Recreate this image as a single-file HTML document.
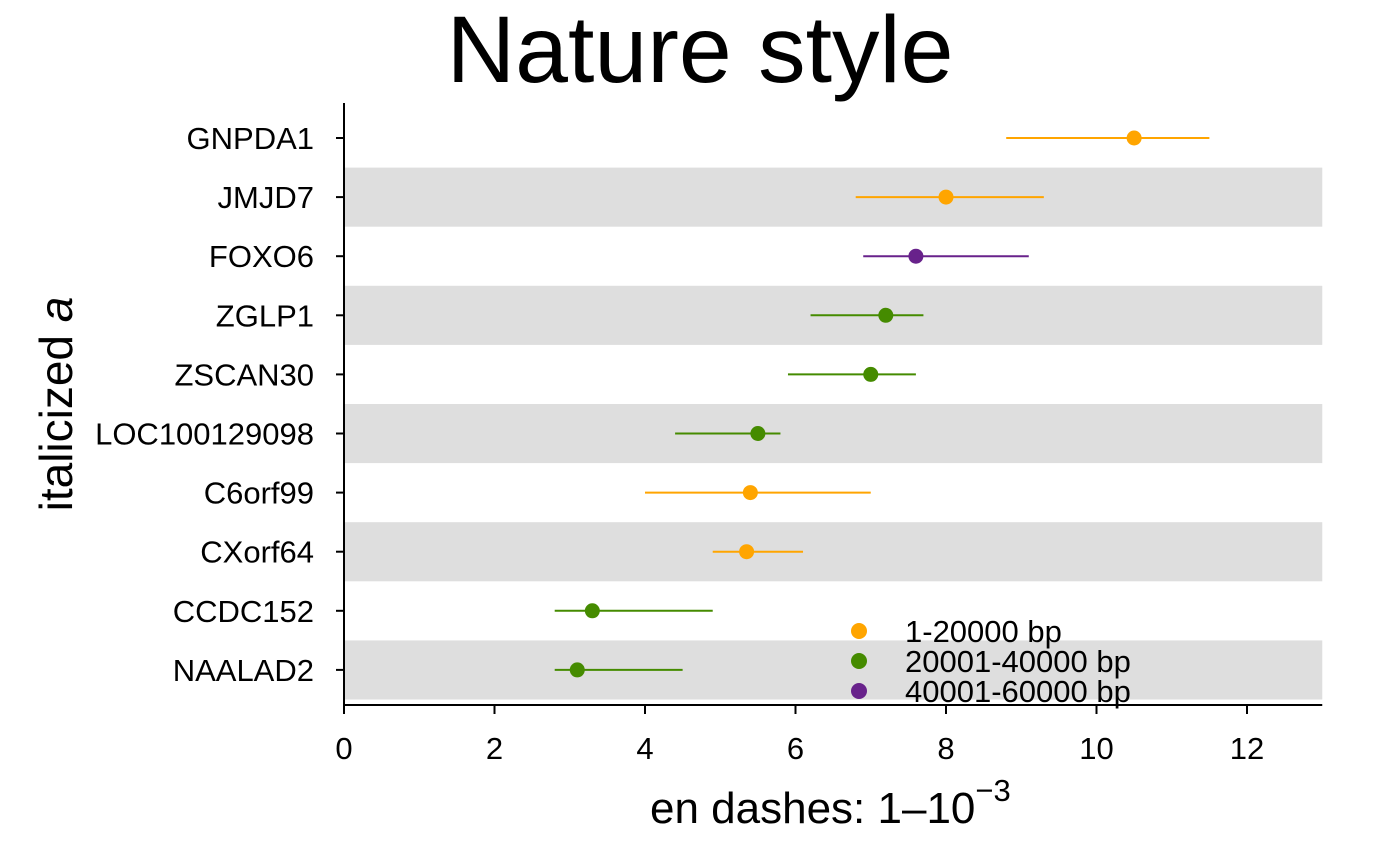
<!DOCTYPE html>
<html><head><meta charset="utf-8"><style>
body{margin:0;background:#fff;}
svg{display:block;font-family:"Liberation Sans",sans-serif;}
</style></head><body>
<svg id="chart" width="1400" height="866">
<text x="700" y="82" text-anchor="middle" font-size="95">Nature style</text>
<g id="bands"></g>
<g id="marks"></g>
<g id="axes"></g>
<text x="650" y="823" font-size="44">en dashes: 1–10<tspan font-size="31" dy="-22">−3</tspan></text>
<text transform="translate(72,404) rotate(-90)" text-anchor="middle" font-size="46">italicized <tspan font-style="italic">a</tspan></text>
<g id="legend"></g>
</svg>
<script>
const genes=["GNPDA1","JMJD7","FOXO6","ZGLP1","ZSCAN30","LOC100129098","C6orf99","CXorf64","CCDC152","NAALAD2"];
const estimates=[10.5,8.0,7.6,7.2,7.0,5.5,5.4,5.35,3.3,3.1];
const lowers=[8.8,6.8,6.9,6.2,5.9,4.4,4.0,4.9,2.8,2.8];
const uppers=[11.5,9.3,9.1,7.7,7.6,5.8,7.0,6.1,4.9,4.5];
const groups=[0,0,2,1,1,1,0,0,1,1];
const groupLabels=["1-20000 bp","20001-40000 bp","40001-60000 bp"];
const xTicks=[0,2,4,6,8,10,12];
const colors=["#FFA500","#458B00","#68228B"];
const NS="http://www.w3.org/2000/svg";
const x=v=>344+v*75.25;
const y=i=>138+i*59.1;
function mk(parent,tag,attrs){const e=document.createElementNS(NS,tag);for(const k in attrs)e.setAttribute(k,attrs[k]);document.getElementById(parent).appendChild(e);return e;}
genes.forEach((g,i)=>{
  if(i%2===1){const r=mk("bands","rect",{x:344,y:y(i)-29.5,width:x(13)-344,height:59.1,fill:"#DEDEDE"});
    
    }
  const l=mk("marks","line",{x1:x(lowers[i]),x2:x(uppers[i]),y1:y(i),y2:y(i),stroke:colors[groups[i]],"stroke-width":2});
  
  
  const c=mk("marks","circle",{cx:x(estimates[i]),cy:y(i),r:7.5,fill:colors[groups[i]]});
  
  
  const t=mk("axes","text",{x:314,y:y(i)+11,"text-anchor":"end","font-size":31});
  t.textContent=g;
  
  
  const tk=mk("axes","line",{x1:336,x2:344,y1:y(i),y2:y(i),stroke:"#000","stroke-width":2});
  
  
});
const ya=mk("axes","line",{x1:344,x2:344,y1:103,y2:705,stroke:"#000","stroke-width":2});


const xa=mk("axes","line",{x1:343,x2:x(13),y1:705,y2:705,stroke:"#000","stroke-width":2});


xTicks.forEach(v=>{
  const tk=mk("axes","line",{x1:x(v),x2:x(v),y1:705,y2:714,stroke:"#000","stroke-width":2});
  
  
  const t=mk("axes","text",{x:x(v),y:759,"text-anchor":"middle","font-size":31});
  t.textContent=v;
  
  
});
groupLabels.forEach((lab,k)=>{
  const c=mk("legend","circle",{cx:859,cy:631+k*30,r:8,fill:colors[k]});
  
  
  const t=mk("legend","text",{x:905,y:642+k*30,"font-size":31});
  t.textContent=lab;
  
  
});
</script>
</body></html>
